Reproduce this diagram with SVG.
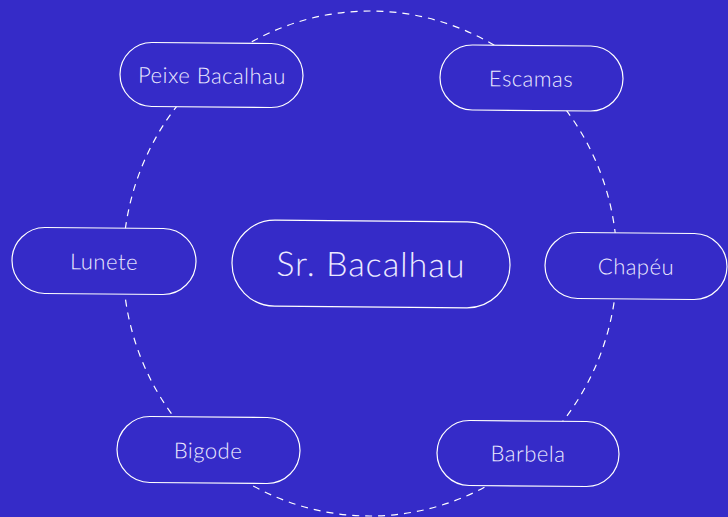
<svg xmlns="http://www.w3.org/2000/svg" width="728" height="517" viewBox="0 0 728 517">
  <style>
    .pill { fill: #352BC8; stroke: #FFFFFF; stroke-width: 1.2; }
    .lbl { font-family: Lato, "Open Sans", sans-serif; font-weight: 300; fill: #ECEAFF; text-anchor: middle; dominant-baseline: central; font-size: 22px; letter-spacing: 0.5px; }
    .big { font-size: 34px; letter-spacing: 1px; }
    .ring { fill: none; stroke: #FFFFFF; stroke-width: 1.2; stroke-dasharray: 7 6; }
  </style>
  <rect x="0" y="0" width="728" height="517" fill="#352BC8"/>
  <g id="connectors">
    <ellipse class="ring" cx="370" cy="263.5" rx="247" ry="252.5"/>
  </g>
  <g id="center" transform="rotate(0.5 371 264)">
    <rect class="pill" x="232" y="221" width="278" height="86" rx="43"/>
    <text class="lbl big" x="371" y="263">Sr. Bacalhau</text>
  </g>
  <g id="peixe" transform="rotate(0.5 212 75)">
    <rect class="pill" x="120" y="43" width="183" height="64" rx="32"/>
    <text class="lbl" x="212" y="75">Peixe Bacalhau</text>
  </g>
  <g id="escamas" transform="rotate(0.5 531 78)">
    <rect class="pill" x="440" y="45.5" width="183" height="65" rx="32.5"/>
    <text class="lbl" x="531" y="78">Escamas</text>
  </g>
  <g id="lunete" transform="rotate(0.5 104 261)">
    <rect class="pill" x="12" y="228" width="184" height="66" rx="33"/>
    <text class="lbl" x="104" y="261">Lunete</text>
  </g>
  <g id="chapeu" transform="rotate(0.5 636 266)">
    <rect class="pill" x="545" y="233" width="182" height="66" rx="33"/>
    <text class="lbl" x="636" y="266">Chapéu</text>
  </g>
  <g id="bigode" transform="rotate(0.5 208 450)">
    <rect class="pill" x="117" y="417" width="183" height="66" rx="33"/>
    <text class="lbl" x="208" y="450">Bigode</text>
  </g>
  <g id="barbela" transform="rotate(0.5 528 453)">
    <rect class="pill" x="437" y="421" width="182" height="65" rx="32.5"/>
    <text class="lbl" x="528" y="453">Barbela</text>
  </g>
</svg>
